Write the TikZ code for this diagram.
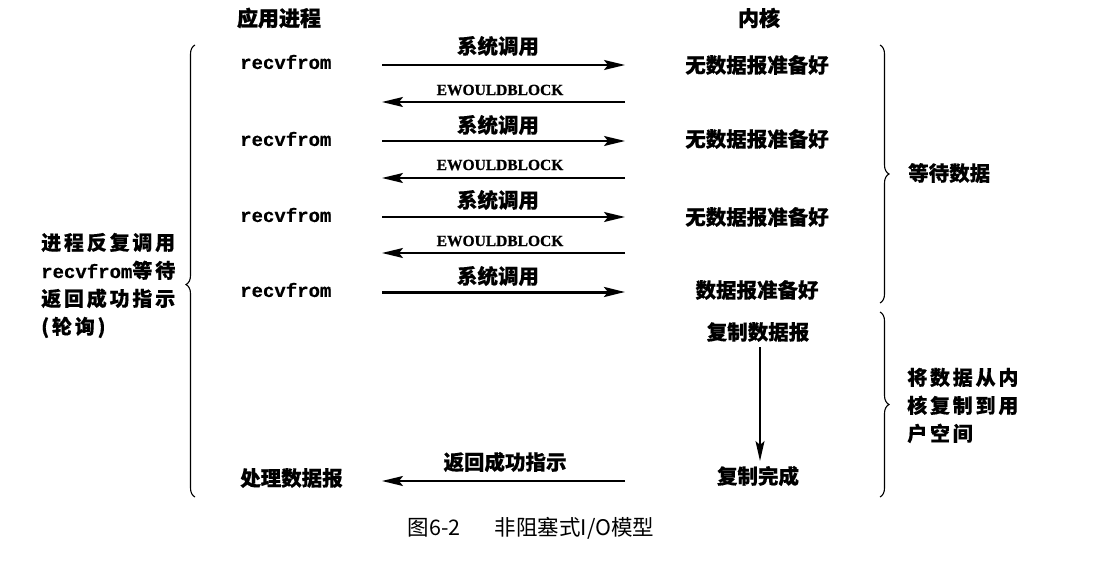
\documentclass[tikz,border=0pt]{standalone}
\usepackage{fontspec}
\setmainfont{Noto Sans CJK SC}
\newfontfamily\bodyfont{Noto Sans CJK SC}[FakeBold=0.35]
\newfontfamily\headfont{Noto Sans CJK SC}[FakeBold=1.2]
\newfontfamily\widefont{Noto Sans CJK SC}[FakeBold=0.35,LetterSpace=14]
\newfontfamily\monofont{Liberation Mono}[FakeBold=0.6]
\newfontfamily\errfont{Liberation Serif}[FakeBold=0.8]
\usetikzlibrary{arrows.meta,decorations.pathreplacing}
\begin{document}
\begin{tikzpicture}[x=1pt,y=-1pt,
  txt/.style={inner sep=0pt,font=\bodyfont\bfseries\fontsize{20.5}{28}\selectfont},
  wide/.style={inner sep=0pt,align=left,font=\widefont\bfseries\fontsize{20}{28}\selectfont},
  head/.style={inner sep=0pt,font=\headfont\bfseries\fontsize{21}{24}\selectfont},
  call/.style={inner sep=0pt,anchor=west,font=\monofont\bfseries\fontsize{19}{24}\selectfont},
  err/.style={inner sep=0pt,font=\errfont\bfseries\fontsize{15.5}{18}\selectfont},
  msg/.style={line width=1.9pt,-{Stealth[length=21pt,width=10pt,inset=4pt]}},
  brc/.style={decorate,line width=1.1pt,decoration={brace,amplitude=9pt}}]
\useasboundingbox (0,0) rectangle (1105,569);

% column headings
\node[head] (hproc) at (279,18) {应用进程};
\node[head] (hkern) at (759,18) {内核};

% application side
\node[call] (r1) at (240,62) {recvfrom};
\node[call] (r2) at (240,139) {recvfrom};
\node[call] (r3) at (240,215) {recvfrom};
\node[call] (r4) at (240,290) {recvfrom};
\node[txt,anchor=west] (proc) at (240,478) {处理数据报};

% kernel side
\node[txt] (k1) at (757,65) {无数据报准备好};
\node[txt] (k2) at (757,139) {无数据报准备好};
\node[txt] (k3) at (757,217) {无数据报准备好};
\node[txt] (k4) at (757,290) {数据报准备好};
\node[txt] (cp) at (758,332) {复制数据报};
\node[txt] (done) at (758,476) {复制完成};

% arrow end points
\foreach \i/\y in {1/65,2/141,3/217,4/292,5/102,6/178,7/253,8/481} {
  \coordinate (pa\i) at (382,\y);
  \coordinate (ka\i) at (625,\y);
}
\coordinate (cv1) at (760,347);
\coordinate (cv2) at (760,461);

% system calls
\draw[msg] (pa1) -- (ka1);
\draw[msg] (pa2) -- (ka2);
\draw[msg] (pa3) -- (ka3);
\draw[msg,line width=3pt] (pa4) -- (ka4);
\node[txt] (s1) at (498,46) {系统调用};
\node[txt] (s2) at (498,125) {系统调用};
\node[txt] (s3) at (498,200) {系统调用};
\node[txt] (s4) at (498,276) {系统调用};

% error returns
\draw[msg] (ka5) -- (pa5);
\draw[msg] (ka6) -- (pa6);
\draw[msg] (ka7) -- (pa7);
\node[err] (e1) at (500,90) {EWOULDBLOCK};
\node[err] (e2) at (500,165) {EWOULDBLOCK};
\node[err] (e3) at (500,241) {EWOULDBLOCK};

% copy and final return
\draw[msg,line width=1.4pt,-{Stealth[length=20pt,width=9pt,inset=4pt]}] (cv1) -- (cv2);
\node[txt] (ok) at (505,462) {返回成功指示};
\draw[msg] (ka8) -- (pa8);

% braces
\coordinate (lb1) at (195,497);
\coordinate (lb2) at (195,45);
\draw[brc,decoration={aspect=0.47}] (lb1) -- (lb2);
\node[wide,anchor=west] (loop) at (41,285.5) {进程反复调用\\{\monofont\bfseries\fontsize{19}{28}\selectfont recvfrom}等待\\返回成功指示\\(轮询)};

\coordinate (wb1) at (880,45);
\coordinate (wb2) at (880,303);
\draw[brc] (wb1) -- (wb2);
\node[txt,anchor=west] (wait) at (908,173) {等待数据};

\coordinate (cb1) at (880,312);
\coordinate (cb2) at (880,497);
\draw[brc] (cb1) -- (cb2);
\node[wide,anchor=west] (copy) at (907,405.5) {将数据从内\\核复制到用\\户空间};

% caption
\node[inner sep=0pt,font=\fontsize{21.5}{24}\selectfont] (cap) at (531,528) {图6-2\hspace{1.6em}非阻塞式I/O模型};
\end{tikzpicture}
\end{document}
